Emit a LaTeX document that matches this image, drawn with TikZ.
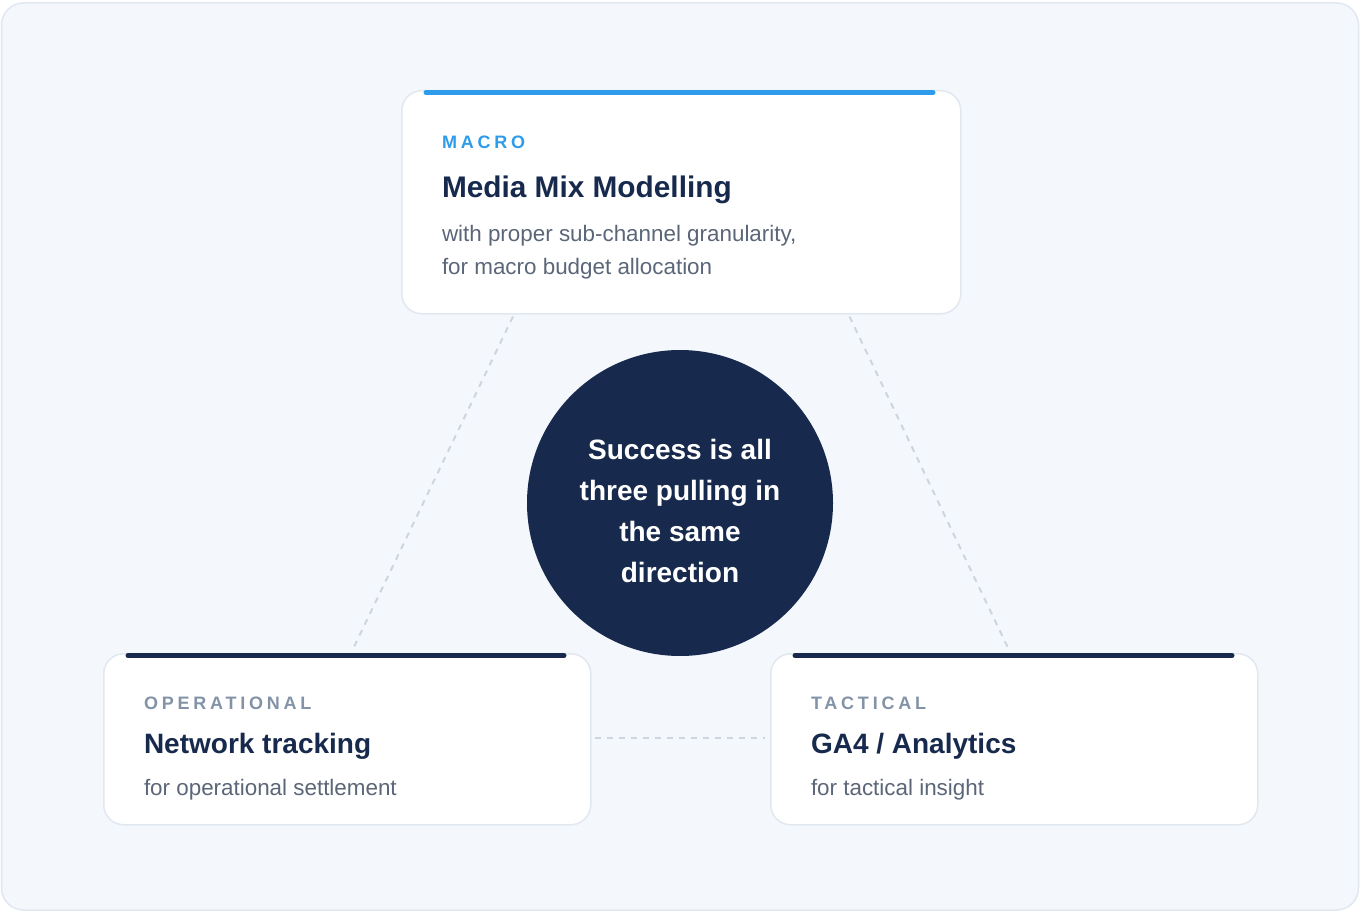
\documentclass[tikz,border=0pt]{standalone}
\usepackage{fontspec}
\setmainfont{Liberation Sans}
\newfontfamily\labelfont[LetterSpace=21]{Liberation Sans}
\usetikzlibrary{calc}
\definecolor{bgc}{HTML}{F4F7FB}
\definecolor{bgline}{HTML}{E2E8F0}
\definecolor{navy}{HTML}{172A4D}
\definecolor{macroblue}{HTML}{2E9CEB}
\definecolor{labelgray}{HTML}{8393A7}
\definecolor{subgray}{HTML}{5B6678}
\definecolor{dashc}{HTML}{CDD6E0}
\tikzset{
  card/.style={draw=bgline, line width=1.5pt, fill=white, rounded corners=20pt, rectangle, inner sep=0pt, anchor=north west},
  topbar/.style={line width=5pt, line cap=round},
  dashline/.style={draw=dashc, line width=2pt, dash pattern=on 6pt off 6pt},
  txt/.style={anchor=base west, inner sep=0pt, outer sep=0pt},
  kicker/.style={txt, font=\labelfont\bfseries\fontsize{18}{20}\selectfont},
  ttl/.style={txt, text=navy, font=\bfseries\fontsize{28}{32}\selectfont},
  bigttl/.style={txt, text=navy, font=\bfseries\fontsize{29.8}{34}\selectfont},
  sub/.style={txt, text=subgray, font=\fontsize{22.4}{26}\selectfont}
}
\begin{document}
\begin{tikzpicture}[x=1pt,y=-1pt]
\useasboundingbox (0,0) rectangle (1360,912);
\fill[white] (0,0) rectangle (1360,912);
\draw[bgline, line width=1.5pt, fill=bgc, rounded corners=22pt] (1.5,3) rectangle (1358.5,910);

% cards
\node[card, minimum width=559pt, minimum height=223pt] (macro) at (401,90) {};
\node[card, minimum width=487pt, minimum height=171pt] (opl) at (103,653) {};
\node[card, minimum width=487pt, minimum height=171pt] (tac) at (770,653) {};

% connectors
\draw[dashline] ($(macro.south west)+(112,2)$) -- ($(opl.north west)+(249,-2)$);
\draw[dashline] ($(macro.south east)+(-112,2)$) -- ($(tac.north east)+(-249,-2)$);
\draw[dashline] ($(opl.east)+(3,-1.5)$) -- ($(tac.west)+(-5,-1.5)$);

% top bars
\coordinate (mb1) at (426,92.5);
\coordinate (mb2) at (933,92.5);
\draw[topbar, macroblue] (mb1) -- (mb2);
\coordinate (ob1) at (128,655.5);
\coordinate (ob2) at (564,655.5);
\draw[topbar, navy] (ob1) -- (ob2);
\coordinate (tb1) at (795,655.5);
\coordinate (tb2) at (1232,655.5);
\draw[topbar, navy] (tb1) -- (tb2);

% top card text
\node[kicker, text=macroblue] (mk) at (442,149) {MACRO};
\node[bigttl] (mt) at (442,198) {Media Mix Modelling};
\node[sub] (ms1) at (442,241.5) {with proper sub-channel granularity,};
\node[sub] (ms2) at (442,274) {for macro budget allocation};

% operational
\node[kicker, text=labelgray] (ok) at (144,709) {OPERATIONAL};
\node[ttl] (ot) at (144,753) {Network tracking};
\node[sub] (os) at (144,795) {for operational settlement};

% tactical
\node[kicker, text=labelgray] (tk) at (811,709) {TACTICAL};
\node[ttl] (tt) at (811,753) {GA4 / Analytics};
\node[sub] (ts) at (811,795) {for tactical insight};

% hub
\node[circle, fill=navy, minimum size=306pt, inner sep=0pt] (hub) at (680,503) {};
\node[text=white, align=center, inner sep=0pt, font=\bfseries\fontsize{28}{41}\selectfont] (hubtext) at (680,511) {Success is all\\three pulling in\\the same\\direction};
\end{tikzpicture}
\end{document}
